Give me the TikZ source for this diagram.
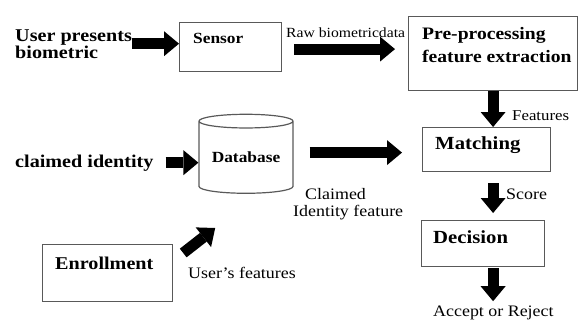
\documentclass[tikz,border=0pt]{standalone}
\usepackage{fontspec}
\setmainfont{Liberation Serif}[FakeStretch=1.12]
\usetikzlibrary{arrows.meta,shapes.geometric}
\tikzset{
  box/.style={draw=black!65, line width=1.2pt, inner sep=0pt, anchor=north west},
  boxtext/.style={anchor=base west, inner sep=0pt, font=\bfseries\fontsize{18}{23}\selectfont},
  cue/.style={anchor=base west, inner sep=0pt, align=left, font=\bfseries\fontsize{18}{17}\selectfont},
  note/.style={anchor=base west, inner sep=0pt, font=\fontsize{16}{16}\selectfont},
  fatarrow/.style={line width=11pt, -{Triangle[length=15pt,width=25pt,line width=0pt]}},
}
\begin{document}
\begin{tikzpicture}[x=1pt, y=-1pt]
    \useasboundingbox (0,0) rectangle (582,325);
    % boxes
    \node[box, minimum width=102pt, minimum height=49pt] (sensor) at (179,22) {};
    \node[box, minimum width=169pt, minimum height=74pt] (pre) at (408,16) {};
    \node[box, minimum width=128pt, minimum height=44pt] (match) at (422,127) {};
    \node[box, minimum width=123pt, minimum height=46pt] (dec) at (421,220) {};
    \node[box, minimum width=130pt, minimum height=57pt] (enrol) at (42,244) {};
    \node[cylinder, shape border rotate=90, aspect=0.2, draw=black!65, line width=1.2pt,
          minimum width=94pt, minimum height=79pt, inner sep=0pt,
          font=\bfseries\fontsize{15.5}{16}\selectfont] (db) at (246,157.5) {Database};
    % box labels
    \foreach \n/\t/\dx/\dy/\s in {sensor/Sensor/14/21/15.5, match/Matching/13/22/18.5,
                                  dec/Decision/12/23/18.5, enrol/Enrollment/13/25/18}
        \node[boxtext, font=\bfseries\fontsize{\s}{\s}\selectfont] at ([shift={(\dx,\dy)}]\n.north west) {\t};
    \node[boxtext, align=left, font=\bfseries\fontsize{17.5}{23}\selectfont] (pretext)
        at ([shift={(14,46)}]pre.north west) {Pre-processing\\feature extraction};
    % inputs and outputs
    \node[cue] (user) at (15,58) {User presents\\biometric};
    \node[cue] (claimed) at (15,167) {claimed identity};
    \node[note, font=\fontsize{14}{14}\selectfont] (raw) at (286,37) {Raw biometricdata};
    \node[note, font=\fontsize{15}{15}\selectfont] (feat) at (512,120) {Features};
    \node[note] (score) at (506,199) {Score};
    \node[note, align=left, font=\fontsize{16}{17}\selectfont] (cid) at (293,216) {\hspace*{12pt}Claimed\\Identity feature};
    \node[note] (ufeat) at (188,278) {User's features};
    \node[note] (accept) at (433,316) {Accept or Reject};
    \coordinate (tip) at ([shift={(42,-16)}]enrol.north east);
    % arrows
    \draw[fatarrow] (user.east) -- (user.east -| sensor.west);
    \draw[fatarrow, shorten <=12pt, shorten >=13pt] ([yshift=-2pt]sensor.east) -- ([yshift=-2pt]sensor.east -| pre.west);
    \draw[fatarrow] (pre.south) -- (pre.south |- match.north);
    \draw[fatarrow, shorten <=11pt, shorten >=7pt] (pre.south |- match.south) -- (pre.south |- dec.north);
    \draw[fatarrow, shorten <=1pt, shorten >=4pt] (pre.south |- dec.south) -- (pre.south |- accept.north);
    \draw[fatarrow, shorten <=12pt] (claimed.east) -- (claimed.east -| db.west);
    \draw[fatarrow, shorten <=16pt, shorten >=20pt] ([yshift=-3pt]match.west -| db.east) -- ([yshift=-3pt]match.west);
    \draw[fatarrow] ([shift={(10,9)}]enrol.north east) -- (tip);
\end{tikzpicture}
\end{document}
